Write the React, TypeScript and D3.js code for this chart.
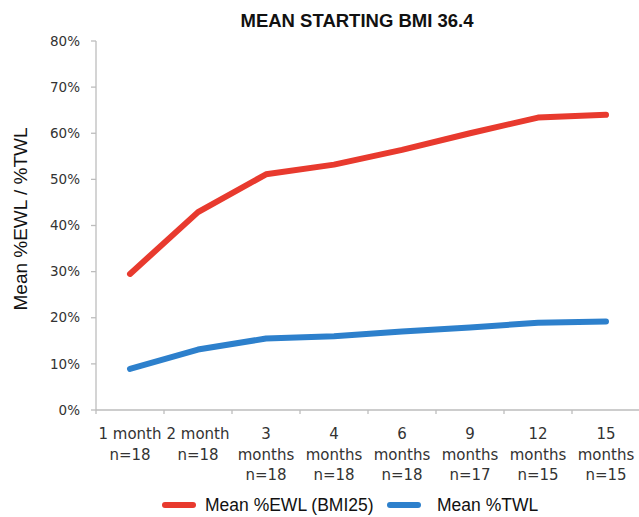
import React from "react";
import * as d3 from "d3";

// Follow-up time points (label lines) and cohort sizes
const categories = ["1m", "2m", "3m", "4m", "6m", "9m", "12m", "15m"];
const categoryLines = [
  ["1 month", "n=18"],
  ["2 month", "n=18"],
  ["3", "months", "n=18"],
  ["4", "months", "n=18"],
  ["6", "months", "n=18"],
  ["9", "months", "n=17"],
  ["12", "months", "n=15"],
  ["15", "months", "n=15"],
];

// Mean excess weight loss (%) relative to BMI 25
const ewlValues = [29.5, 42.9, 51.1, 53.2, 56.4, 60.0, 63.4, 64.0];
// Mean total weight loss (%)
const twlValues = [8.9, 13.1, 15.5, 16.0, 17.0, 17.9, 18.9, 19.2];

const yTicks = [0, 10, 20, 30, 40, 50, 60, 70, 80];

const seriesNames = ["Mean %EWL (BMI25)", "Mean %TWL"];
const seriesColors = ["#E83A2E", "#2D80CC"];

const W = 639;
const H = 517;

export default function App() {
  const x = d3.scaleBand<string>().domain(categories).range([96, 640]);
  const y = d3.scaleLinear().domain([0, 80]).range([410, 41]);

  const line = d3
    .line<number>()
    .x((_, i) => (x(categories[i]) as number) + x.bandwidth() / 2)
    .y((d) => y(d));

  const axisColor = "#BDBDBD";
  const labelFont = "'DejaVu Sans', Verdana, sans-serif";
  const arial = "'Liberation Sans', Arial, sans-serif";

  const boundaries = categories.map((c) => x(c) as number).concat([x.range()[1]]);

  // legend layout: swatch start and text start for each series
  const legendItems = [
    { x0: 162, tx: 205 },
    { x0: 387, tx: 437 },
  ];
  const legendY = 505;

  return (
    <svg
      width={W}
      height={H}
      style={{ position: "absolute", left: 0, top: 0, background: "#fff" }}
    >
      <text
        x={357}
        y={27}
        textAnchor="middle"
        fontFamily={arial}
        fontWeight="bold"
        fontSize={18.5}
        fill="#111"
      >
        MEAN STARTING BMI 36.4
      </text>

      {/* y axis */}
      <line x1={96} x2={96} y1={y(80)} y2={y(0)} stroke={axisColor} strokeWidth={1.3} />
      {yTicks.map((t) => (
        <g key={t}>
          <line x1={91} x2={96} y1={y(t)} y2={y(t)} stroke={axisColor} strokeWidth={1.3} />
          <text
            x={80}
            y={y(t)}
            dy="0.35em"
            textAnchor="end"
            fontFamily={labelFont}
            fontSize={13.5}
            fill="#333"
          >
            {t}%
          </text>
        </g>
      ))}
      <text
        transform={`translate(27,${219}) rotate(-90)`}
        textAnchor="middle"
        fontFamily={arial}
        fontSize={19}
        fill="#111"
      >
        Mean %EWL / %TWL
      </text>

      {/* x axis */}
      <line x1={96} x2={W} y1={y(0)} y2={y(0)} stroke={axisColor} strokeWidth={1.3} />
      {boundaries.map((b, i) => (
        <line key={i} x1={b} x2={b} y1={y(0)} y2={y(0) + 4} stroke={axisColor} strokeWidth={1.3} />
      ))}
      {categories.map((c, i) => (
        <text
          key={c}
          x={(x(c) as number) + x.bandwidth() / 2}
          y={439}
          textAnchor="middle"
          fontFamily={labelFont}
          fontSize={15}
          fill="#333"
        >
          {categoryLines[i].map((s, j) => (
            <tspan key={j} x={(x(c) as number) + x.bandwidth() / 2} y={439 + j * 20.5}>
              {s}
            </tspan>
          ))}
        </text>
      ))}

      {/* series */}
      {[ewlValues, twlValues].map((vals, i) => (
        <path
          key={i}
          d={line(vals) as string}
          fill="none"
          stroke={seriesColors[i]}
          strokeWidth={6}
          strokeLinecap="round"
          strokeLinejoin="round"
        />
      ))}

      {/* legend */}
      {legendItems.map((p, i) => (
        <g key={i}>
          <line
            x1={p.x0 + 3}
            x2={p.x0 + 31}
            y1={legendY}
            y2={legendY}
            stroke={seriesColors[i]}
            strokeWidth={6}
            strokeLinecap="round"
          />
          <text x={p.tx} y={legendY} dy="0.35em" fontFamily={arial} fontSize={17.5} fill="#111">
            {seriesNames[i]}
          </text>
        </g>
      ))}
    </svg>
  );
}
